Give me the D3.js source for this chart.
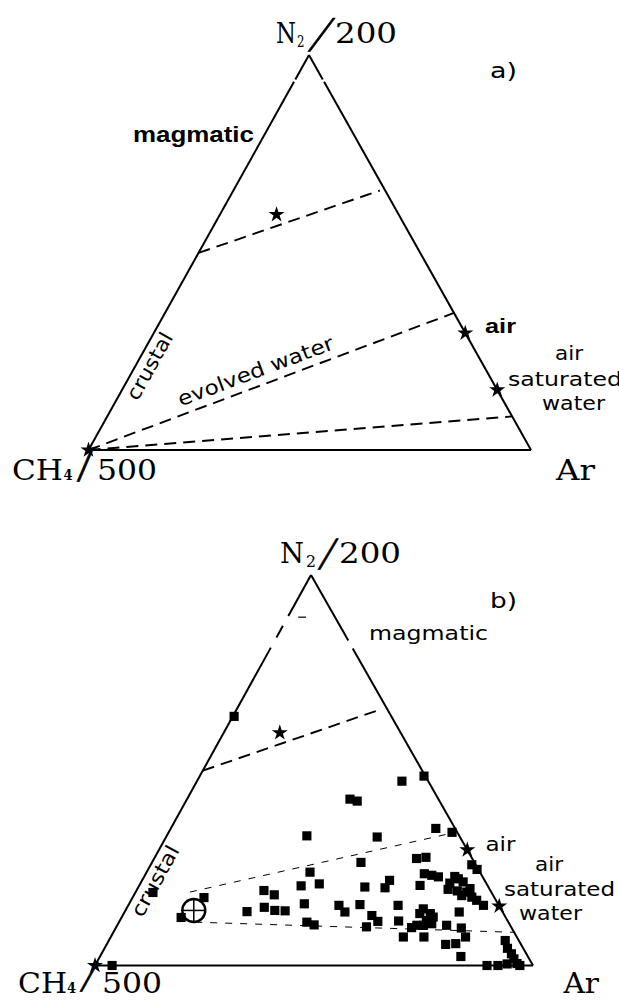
<!DOCTYPE html>
<html><head><meta charset="utf-8">
<script src="https://cdn.jsdelivr.net/npm/d3@7"></script>
<style>body{margin:0;background:#fff} svg{display:block}</style>
</head><body>
<svg id="c" width="619" height="1001"></svg>
<script>
// Ternary compositions: N2/200 (%), Ar (%); CH4/500 = 100 - N2 - Ar
const endMemberNames = ["magmatic", "air", "air saturated water", "crustal"];
const endMemberN2 = [59.6, 29.6, 15.2, 0];
const endMemberAr = [12.8, 70.4, 84.8, 0];

// mixing lines [n2Start, arStart, n2End, arEnd]
const mixLinesA = [[49.9, 0, 65.7, 33.1], [0, 0, 34.7, 65.3], [0, 0, 8.5, 91.5]];
const mixLinesB = [[49.9, 0, 65.7, 33.1]];
const fanLinesB = [[18.8, 12.4, 34.2, 65.8], [11.1, 17.4, 8.5, 91.5]];
const remnantB = [[89.2, 2.4, 89.2, 4.2]];
const crustalMemberB = [14.1, 15.6];

// samples (panel b)
const sampleN2 = [63.8,47.2,48.5,42.6,42.1,33.2,32.9,35.1,34.1,18.7,17.4,12.3,
  26.4,23.9,27.4,27.7,23.5,23.1,22.7,21.8,19.9,20.1,20.9,20.4,19.2,18.1,20.5,
  25.8,24.6,21.1,22.2,21.4,19.7,18.8,19.1,17.9,17.5,16.7,15.4,22.8,19.5,
  13.8,14.9,14.1,14.0,15.8,15.4,13.7,15.6,12.8,11.3,15.4,11.4,11.1,10.4,9.9,
  14.5,13.3,12.4,11.5,10.3,10.7,10.3,9.7,13.3,13.7,10.3,9.6,7.3,7.3,7.3,5.4,5.6,2.3,
  6.4,4.4,3.0,1.7,0.5,0,0,0.4,0,0];
const sampleAr = [0.3,46.8,51.2,37.2,39.1,32.0,48.2,60.5,64.7,4.0,16.3,13.6,
  47.7,37.3,59.9,61.9,63.6,65.5,67.2,56.5,56.4,51.7,40.9,37.0,29.1,32.0,64.1,
  73.3,75.1,70.6,72.0,73.5,75.9,75.6,73.3,74.9,77.4,78.9,81.1,70.9,71.0,
  27.9,31.3,34.1,36.5,40.0,48.1,50.3,52.8,56.9,59.0,61.6,63.7,42.9,44.9,57.1,
  67.8,70.0,71.1,70.0,69.9,71.6,68.4,67.5,67.6,76.4,75.2,78.9,81.0,66.8,71.5,77.4,79.6,82.4,
  90.5,92.0,93.6,94.8,96.1,89.5,92.0,93.9,97.0,3.9];

const svg = d3.select("#c");
svg.append("rect").attr("width", 619).attr("height", 1001).attr("fill", "#fff");

const serif = "'DejaVu Serif', serif";
const times = "'Liberation Serif', serif";
const sans = "'DejaVu Sans', sans-serif";
const arial = "'Liberation Sans', Arial, sans-serif";

const panels = [
  { id: "a", L: [88.5, 450], R: [531, 450], A: [309, 55],
    gapsLeft: [[93.2, 93.8]], gapsRight: [[93.2, 93.8]],
    mix: mixLinesA, fan: [], remnant: [], samples: false, member: null },
  { id: "b", L: [95, 965.5], R: [533, 965.5], A: [311, 575],
    gapsLeft: [[81.4, 84.0], [87.0, 89.5]], gapsRight: [[81.2, 83.2]],
    mix: mixLinesB, fan: fanLinesB, remnant: remnantB, samples: true, member: crustalMemberB }
];

function label(g, x, y, s, size, font, len, weight, anchor) {
  const t = g.append("text").attr("x", x).attr("y", y).text(s)
    .attr("font-size", size).attr("font-family", font).attr("fill", "#000");
  if (weight) t.attr("font-weight", weight);
  if (len) t.attr("textLength", len).attr("lengthAdjust", "spacingAndGlyphs");
  if (anchor) t.attr("text-anchor", anchor);
  return t;
}
function slash(g, x, y, size, skew) {
  g.append("text").attr("transform", `translate(${x},${y}) skewX(${skew})`)
    .text("/").attr("font-size", size).attr("font-family", times).attr("fill", "#000")
    .attr("stroke", "#000").attr("stroke-width", 0.7);
}

panels.forEach(p => {
  const g = svg.append("g");
  const xAr = d3.scaleLinear().domain([0, 100]).range([p.L[0], p.R[0]]);
  const xN2 = d3.scaleLinear().domain([0, 100]).range([0, p.A[0] - p.L[0]]);
  const yN2 = d3.scaleLinear().domain([0, 100]).range([p.L[1], p.A[1]]);
  const proj = (n2, ar) => [xAr(ar) + xN2(n2), yN2(n2)];

  function edge(from, to, gaps) {
    let pts = [0];
    gaps.forEach(gp => { pts.push(gp[0] / 100, gp[1] / 100); });
    pts.push(1);
    for (let i = 0; i < pts.length; i += 2) {
      const t0 = pts[i], t1 = pts[i + 1];
      g.append("line")
        .attr("x1", from[0] + (to[0] - from[0]) * t0).attr("y1", from[1] + (to[1] - from[1]) * t0)
        .attr("x2", from[0] + (to[0] - from[0]) * t1).attr("y2", from[1] + (to[1] - from[1]) * t1)
        .attr("stroke", "#000").attr("stroke-width", 2);
    }
  }
  const vL = proj(0, 0), vR = proj(0, 100), vA = proj(100, 0);
  edge(vL, vR, []);
  edge(vL, vA, p.gapsLeft);
  edge(vR, vA, p.gapsRight);

  p.mix.forEach(m => {
    const a = proj(m[0], m[1]), b = proj(m[2], m[3]);
    g.append("line").attr("x1", a[0]).attr("y1", a[1]).attr("x2", b[0]).attr("y2", b[1])
      .attr("stroke", "#000").attr("stroke-width", 1.9).attr("stroke-dasharray", "12,7");
  });
  p.fan.forEach(m => {
    const a = proj(m[0], m[1]), b = proj(m[2], m[3]);
    g.append("line").attr("x1", a[0]).attr("y1", a[1]).attr("x2", b[0]).attr("y2", b[1])
      .attr("stroke", "#000").attr("stroke-width", 1).attr("stroke-dasharray", "7,8");
  });
  p.remnant.forEach(m => {
    const a = proj(m[0], m[1]), b = proj(m[2], m[3]);
    g.append("line").attr("x1", a[0]).attr("y1", a[1]).attr("x2", b[0]).attr("y2", b[1])
      .attr("stroke", "#000").attr("stroke-width", 1.2);
  });

  if (p.samples) {
    const sq = d3.symbol().type(d3.symbolSquare).size(84);
    g.selectAll("path.s").data(sampleN2.map((n, i) => [n, sampleAr[i]])).join("path")
      .attr("class", "s").attr("d", sq)
      .attr("transform", d => { const q = proj(d[0], d[1]); return `translate(${q[0]},${q[1]})`; })
      .attr("fill", "#000");
  }
  const star = d3.symbol().type(d3.symbolStar).size(80);
  g.selectAll("path.st").data(endMemberN2.map((n, i) => [n, endMemberAr[i]])).join("path")
    .attr("class", "st").attr("d", star)
    .attr("transform", d => { const q = proj(d[0], d[1]); return `translate(${q[0]},${q[1]})`; })
    .attr("fill", "#000");

  if (p.member) {
    const c = proj(p.member[0], p.member[1]);
    const r = 11.5;
    g.append("circle").attr("cx", c[0]).attr("cy", c[1]).attr("r", r)
      .attr("fill", "none").attr("stroke", "#000").attr("stroke-width", 2.4);
    g.append("line").attr("x1", c[0] - r).attr("x2", c[0] + r).attr("y1", c[1]).attr("y2", c[1])
      .attr("stroke", "#000").attr("stroke-width", 1.5);
    g.append("line").attr("x1", c[0]).attr("x2", c[0]).attr("y1", c[1] - r).attr("y2", c[1] + r)
      .attr("stroke", "#000").attr("stroke-width", 1.5);
  }

  const edgeAngle = Math.atan2(vA[1] - vL[1], vA[0] - vL[0]) * 180 / Math.PI;
  function rot(cx, cy, s, ang, len) {
    g.append("text").attr("transform", `translate(${cx},${cy}) rotate(${ang})`)
      .attr("text-anchor", "middle").attr("dy", 7).text(s)
      .attr("font-size", 20).attr("font-family", sans).attr("fill", "#000")
      .attr("textLength", len).attr("lengthAdjust", "spacingAndGlyphs");
  }

  if (p.id === "a") {
    label(g, 276, 43, "N", 28, serif, 20);
    label(g, 297, 47, "2", 16, serif, 7.5);
    slash(g, 308, 51, 50, -22);
    label(g, 335, 43, "200", 28, serif, 62);
    label(g, 12, 480, "CH", 28, serif, 51);
    label(g, 63.5, 480, "4", 14, serif, 9, "bold");
    slash(g, 77, 481, 48, -5);
    label(g, 97, 480, "500", 28, serif, 60);
    label(g, 556, 480, "Ar", 28, serif, 39);
    label(g, 490, 78, "a)", 22, sans, 27);
    label(g, 133, 142, "magmatic", 22, arial, 121, "bold");
    label(g, 485, 333, "air", 20, arial, 31, "bold");
    label(g, 569, 360, "air", 20, sans, 28, null, "middle");
    label(g, 508, 386, "saturated", 20, sans, 114);
    label(g, 542, 410, "water", 20, sans, 63);
    rot(149.5, 366, "crustal", edgeAngle, 74);
    const e0 = proj(mixLinesA[1][0], mixLinesA[1][1]), e1 = proj(mixLinesA[1][2], mixLinesA[1][3]);
    const ang = Math.atan2(e1[1] - e0[1], e1[0] - e0[0]) * 180 / Math.PI;
    rot(255.5, 371, "evolved water", ang, 165);
  } else {
    label(g, 280, 563, "N", 28, serif, 24);
    label(g, 306, 567, "2", 16, serif, 10);
    slash(g, 318, 569, 46, -14);
    label(g, 339, 563, "200", 28, serif, 62);
    label(g, 18, 993, "CH", 27, serif, 49);
    label(g, 67, 993, "4", 14, serif, 9, "bold");
    slash(g, 80, 991, 44, -12);
    label(g, 102, 993, "500", 27, serif, 60);
    label(g, 563.5, 993, "Ar", 27, serif, 35.5);
    label(g, 490, 608, "b)", 22, sans, 27);
    label(g, 369, 640, "magmatic", 19, sans, 119);
    label(g, 485.5, 851, "air", 20, sans, 30);
    label(g, 535, 871, "air", 20, sans, 28);
    label(g, 504, 896, "saturated", 20, sans, 111);
    label(g, 519, 919.5, "water", 20, sans, 63);
    rot(155, 881, "crustal", edgeAngle, 78);
  }
});
</script>
</body></html>
